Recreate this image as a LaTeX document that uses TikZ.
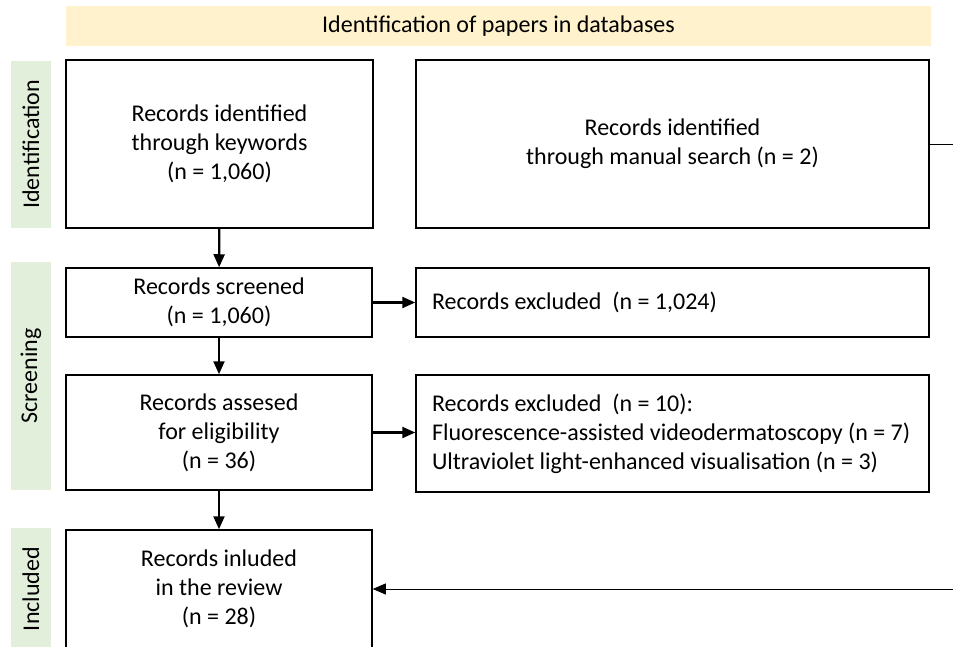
\documentclass[tikz,border=0pt]{standalone}
\usepackage{fontspec}
\setmainfont{Carlito}
\usetikzlibrary{positioning, arrows.meta}
\definecolor{bannerfill}{HTML}{FFF2CC}
\definecolor{stagefill}{HTML}{E2EFDA}

\begin{document}
\begin{tikzpicture}[x=1pt, y=-1pt,
    every node/.style={font=\fontsize{24}{29}\selectfont},
    banner/.style={fill=bannerfill, minimum width=865pt, minimum height=40pt},
    stagebar/.style={fill=stagefill, rotate=90, minimum height=40pt},
    box/.style={draw, line width=1.5pt, align=center},
    sidebox/.style={box, align=flush left, text width=481pt, inner xsep=16pt},
    thickarrow/.style={line width=2.2pt, -{Triangle[length=13pt,width=11pt]}},
    thinarrow/.style={line width=0.8pt, -{Triangle[length=13pt,width=11pt]}}]
        % page frame, the right-hand rail runs off the picture
        \clip (0,0) rectangle (953,647);

        % header and stage labels
        \node[banner] (header) at (498.5,26) {Identification of papers in databases};
        \node[stagebar, minimum width=167pt] (identbar) at (31,144.5) {Identification};
        \node[stagebar, minimum width=228pt] (screenbar) at (31,376) {Screening};
        \node[stagebar, minimum width=122pt] (inclbar) at (31,589) {Included};

        % left column
        \node[box, minimum width=307pt, minimum height=168pt] (keywords) at (219.5,144) {Records identified\\through keywords\\(n = 1,060)};
        \node[box, minimum width=306pt, minimum height=69pt] (screened) at (219,302.5) {Records screened\\(n = 1,060)};
        \node[box, minimum width=306pt, minimum height=115pt] (assessed) at (219,432.5) {Records assesed\\for eligibility\\(n = 36)};
        \node[box, minimum width=306pt, minimum height=118pt] (included) at (219,589) {Records inluded\\in the review\\(n = 28)};

        % right column
        \node[box, minimum width=513pt, minimum height=168pt] (manual) at (672.5,144) {Records identified\\through manual search (n = 2)};
        \node[sidebox, minimum height=69pt] (excluded) at (672.5,302.5) {Records excluded~~(n = 1,024)};
        \node[sidebox, minimum height=117pt] (excludedfull) at (672.5,433.5) {Records excluded~~(n = 10):\\Fluorescence-assisted videodermatoscopy (n = 7)\\Ultraviolet light-enhanced visualisation (n = 3)};

        % flow
        \draw[thickarrow] (keywords) -- (screened);
        \draw[thickarrow] (screened) -- (assessed);
        \draw[thickarrow] (assessed) -- (included);
        \draw[thickarrow] (screened) -- (excluded);
        \draw[thickarrow] (assessed.east) -- (assessed.east -| excludedfull.west);

        \coordinate (rail) at (980,144);
        \draw[thinarrow] (manual.east) -- (rail) -- (rail |- included.east) -- (included.east);
    \end{tikzpicture}
\end{document}
